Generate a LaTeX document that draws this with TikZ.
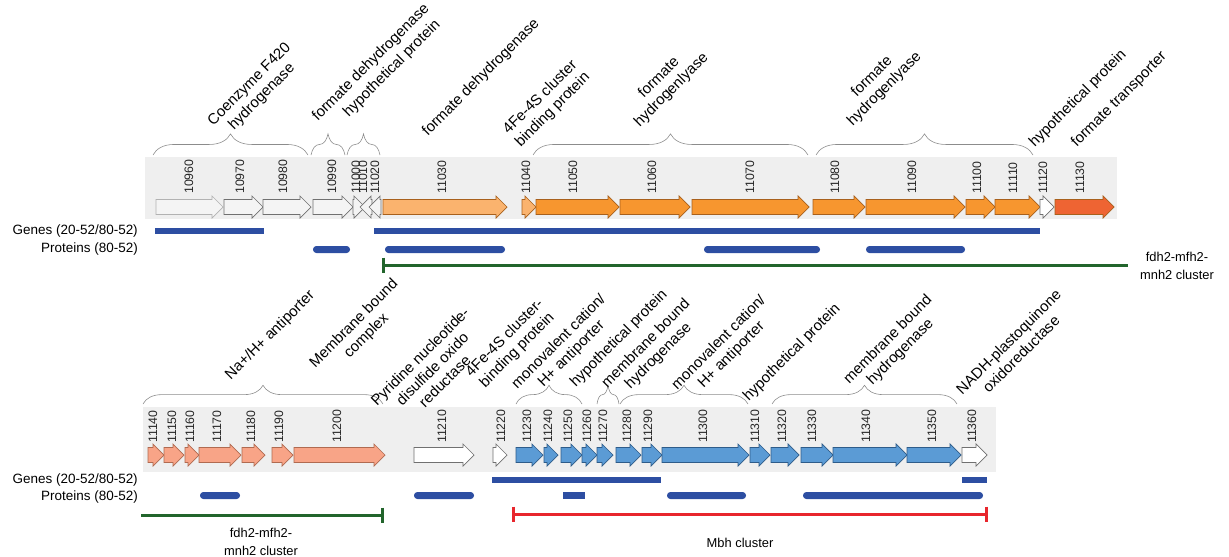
\documentclass[tikz,border=0pt]{standalone}
\usepackage{fontspec}
\setmainfont{Liberation Sans}
\usetikzlibrary{decorations.pathreplacing}

\definecolor{bandgray}{HTML}{EFEFEF}
\definecolor{genegray}{HTML}{F4F4F4}
\definecolor{edgegray}{HTML}{707070}
\definecolor{lightorange}{HTML}{FAB36E}
\definecolor{geneorange}{HTML}{F7962F}
\definecolor{edgeorange}{HTML}{A8601C}
\definecolor{redorange}{HTML}{EE6433}
\definecolor{genesalmon}{HTML}{F8A487}
\definecolor{edgesalmon}{HTML}{B06A50}
\definecolor{geneblue}{HTML}{5B9BD5}
\definecolor{edgeblue}{HTML}{2E5C8A}
\definecolor{barblue}{HTML}{2D4EA2}
\definecolor{clustergreen}{HTML}{22652C}
\definecolor{clusterred}{HTML}{E8262D}

% gene arrows: x start, x end, y centre, style
\newcommand{\fwdgene}[4]{%
  \pgfmathsetmacro{\hx}{max(#1,#2-11)}%
  \draw[#4] (#1,#3-7.5) -- (\hx,#3-7.5) -- (\hx,#3-11) -- (#2,#3)
    -- (\hx,#3+11) -- (\hx,#3+7.5) -- (#1,#3+7.5) -- cycle;}
\newcommand{\revgene}[4]{%
  \pgfmathsetmacro{\hx}{min(#2,#1+11)}%
  \draw[#4] (#2,#3-7.5) -- (\hx,#3-7.5) -- (\hx,#3-11) -- (#1,#3)
    -- (\hx,#3+11) -- (\hx,#3+7.5) -- (#2,#3+7.5) -- cycle;}

\begin{document}
\begin{tikzpicture}[
    x=0.03cm, y=-0.03cm,
    every node/.style={inner sep=0pt},
    genelabel/.style={rotate=45, anchor=south west, align=center, font=\fontsize{12.8}{15}\selectfont},
    genenum/.style={rotate=90, anchor=west, font=\fontsize{10.5}{12}\selectfont, text=black!85},
    rowlabel/.style={anchor=east, font=\fontsize{11.5}{13}\selectfont},
    clusterlabel/.style={align=center, font=\fontsize{11}{15}\selectfont},
    genebrace/.style={draw=black!45, line width=0.5pt, decorate, decoration={brace, amplitude=#1}},
    greygene/.style={fill=genegray, draw=edgegray, line width=0.6pt},
    palegene/.style={fill=genegray, draw=black!30, line width=0.6pt},
    whitegene/.style={fill=white, draw=edgegray, line width=0.6pt},
    lightorangegene/.style={fill=lightorange, draw=edgeorange, line width=0.6pt},
    orangegene/.style={fill=geneorange, draw=edgeorange, line width=0.6pt},
    redgene/.style={fill=redorange, draw=edgeorange, line width=0.6pt},
    salmongene/.style={fill=genesalmon, draw=edgesalmon, line width=0.6pt},
    bluegene/.style={fill=geneblue, draw=edgeblue, line width=0.6pt},
    genebar/.style={fill=barblue},
    protbar/.style={fill=barblue, rounded corners=0.1cm},
    clusterline/.style={line width=0.09cm}
]

\useasboundingbox (0,0) rectangle (1229,556);

% ============ TOP ROW ============
\fill[bandgray] (145,157) rectangle (1117,219);

% braces
\draw[genebrace=18] (153,155) -- (308,155);
\draw[genebrace=18] (311,155) -- (345,155);
\draw[genebrace=18] (347,155) -- (380,155);
\draw[genebrace=18] (533,155) -- (808,155);
\draw[genebrace=18] (816,155) -- (1033,155);

% genes
\fwdgene{156}{223}{207}{palegene}
\foreach \xa/\xb in {224/263, 263/311, 313/353, 353/365}
    \fwdgene{\xa}{\xb}{207}{greygene};
\foreach \xa/\xb in {360/372, 369/381}
    \revgene{\xa}{\xb}{207}{greygene};
\foreach \xa/\xb in {383/507, 522/536}
    \fwdgene{\xa}{\xb}{207}{lightorangegene};
\foreach \xa/\xb in {536/619, 620/690, 692/809, 813/865, 866/965, 966/995, 995/1040}
    \fwdgene{\xa}{\xb}{207}{orangegene};
\fwdgene{1040}{1054}{207}{whitegene}
\fwdgene{1055}{1114}{207}{redgene}

% gene numbers
\foreach \x/\num in {189/10960, 240/10970, 283/10980, 332/10990, 356/11000, 363/11010,
    375/11020, 442/11030, 526/11040, 573/11050, 652/11060, 750/11070, 835/11080,
    912/11090, 977/11100, 1013/11110, 1043/11120, 1080/11130}
    \node[genenum] (n\num) at (\x,194) {\num};

% annotations
\node[genelabel] (lblCoenzyme) at (228,141) {Coenzyme F420\\hydrogenase};
\node[genelabel] (lblFdhA) at (320,124) {formate dehydrogenase};
\node[genelabel] (lblHypA) at (351,120) {hypothetical protein};
\node[genelabel] (lblFdhB) at (430,139) {formate dehydrogenase};
\node[genelabel] (lblFeSA) at (523,150) {4Fe-4S cluster\\binding protein};
\node[genelabel] (lblFhlA) at (642,130) {formate\\hydrogenlyase};
\node[genelabel] (lblFhlB) at (855,129) {formate\\hydrogenlyase};
\node[genelabel] (lblHypB) at (1037,150) {hypothetical protein};
\node[genelabel] (lblFocA) at (1079,150) {formate transporter};

% similarity bars
\node[rowlabel] (genesTop) at (138,231) {Genes (20-52/80-52)};
\node[rowlabel] (protTop) at (138,249) {Proteins (80-52)};
\fill[genebar] (155,228) rectangle (264,234);
\fill[genebar] (374,228) rectangle (1040,234);
\foreach \xa/\xb in {313/350, 385/505, 704/820, 866/965}
    \fill[protbar] (\xa,246) rectangle (\xb,253);

% cluster extent
\draw[clustergreen, clusterline] (383,265) -- (1128,265);
\draw[clustergreen, clusterline] (383,257.5) -- (383,272.5);
\node[clusterlabel] (clusterTop) at (1177,266) {fdh2-mfh2-\\mnh2 cluster};

% ============ BOTTOM ROW ============
\fill[bandgray] (143,407) rectangle (996,472);

% braces
\draw[genebrace=16] (143,404) -- (383,404);
\draw[genebrace=16] (516,404) -- (582,404);
\draw[genebrace=16] (597,404) -- (619,404);
\draw[genebrace=16] (620,404) -- (748,404);
\draw[genebrace=16] (772,404) -- (957,404);

% genes
\foreach \xa/\xb in {148/164, 164/184, 185/199, 199/241, 242/265, 272/293, 294/385}
    \fwdgene{\xa}{\xb}{455}{salmongene};
\foreach \xa/\xb in {414/474, 493/507, 962/987}
    \fwdgene{\xa}{\xb}{455}{whitegene};
\foreach \xa/\xb in {516/543, 544/558, 561/582, 582/597, 597/613, 616/641, 642/662,
    662/749, 750/770, 771/799, 801/833, 833/907, 907/961}
    \fwdgene{\xa}{\xb}{455}{bluegene};

% gene numbers
\foreach \x/\num in {153/11140, 172/11150, 190/11160, 217/11170, 251/11180, 279/11190,
    337/11200, 442/11210, 501/11220, 527/11230, 548/11240, 568/11250, 587/11260,
    603/11270, 627/11280, 648/11290, 703/11300, 755/11310, 782/11320, 812/11330,
    866/11340, 932/11350, 972/11360}
    \node[genenum] (n\num) at (\x,443) {\num};

% annotations
\node[genelabel] (lblNha) at (233,383) {Na+/H+ antiporter};
\node[genelabel] (lblMbc) at (330,383) {Membrane bound\\complex};
\node[genelabel] (lblPyr) at (402,432) {Pyridine nucleotide-\\disulfide oxido\\reductase};
\node[genelabel] (lblFeSB) at (486,392) {4Fe-4S cluster-\\binding protein};
\node[genelabel] (lblMncA) at (532,404) {monovalent cation/\\H+ antiporter};
\node[genelabel] (lblHypC) at (578,390) {hypothetical protein};
\node[genelabel] (lblMbhA) at (622,403) {membrane bound\\hydrogenase};
\node[genelabel] (lblMncB) at (692,405) {monovalent cation/\\H+ antiporter};
\node[genelabel] (lblHypD) at (751,404) {hypothetical protein};
\node[genelabel] (lblMbhB) at (864,399) {membrane bound\\hydrogenase};
\node[genelabel] (lblNad) at (975,408) {NADH-plastoquinone\\oxidoreductase};

% similarity bars
\node[rowlabel] (genesBot) at (138,480) {Genes (20-52/80-52)};
\node[rowlabel] (protBot) at (138,497) {Proteins (80-52)};
\fill[genebar] (492,477) rectangle (661,483);
\fill[genebar] (962,477) rectangle (987,483);
\foreach \xa/\xb in {200/240, 414/474, 667/746, 803/983}
    \fill[protbar] (\xa,492) rectangle (\xb,499);
\fill[genebar] (563,492) rectangle (585,499);

% cluster extents
\draw[clustergreen, clusterline] (141,515) -- (382,515);
\draw[clustergreen, clusterline] (382,507.5) -- (382,522.5);
\node[clusterlabel] (clusterBotA) at (261,542) {fdh2-mfh2-\\mnh2 cluster};
\draw[clusterred, clusterline] (513,514) -- (986,514);
\draw[clusterred, clusterline] (513,506.5) -- (513,521.5);
\draw[clusterred, clusterline] (986,506.5) -- (986,521.5);
\node[clusterlabel] (clusterBotB) at (740,543) {Mbh cluster};

\end{tikzpicture}
\end{document}
